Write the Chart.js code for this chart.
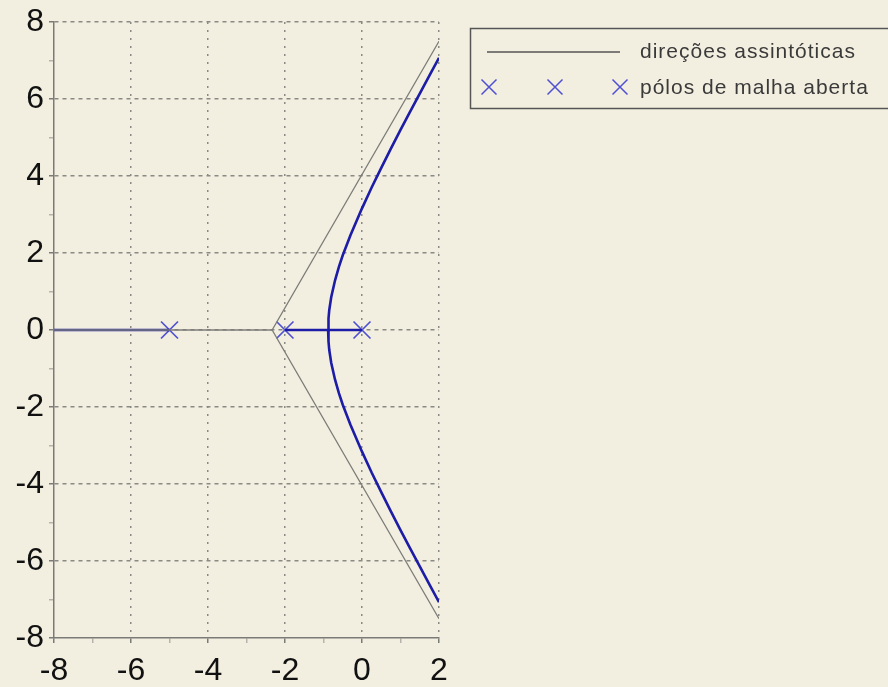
<!DOCTYPE html>
<html>
<head>
<meta charset="utf-8">
<script src="https://cdn.jsdelivr.net/npm/chart.js@4.4.1/dist/chart.umd.min.js"></script>
<style>
  html, body { margin: 0; padding: 0; background: #f3efe0; }
  canvas { display: block; }
</style>
</head>
<body>
<canvas id="rl" width="888" height="687"></canvas>
<script>
/* ── DATA ─────────────────────────────────────────────────────────────── */
const X_RANGE = [-8, 2];
const Y_RANGE = [-8, 8];

// open-loop poles (real axis)
const POLES_X = [-5, -2, 0];

// asymptote centre and end points
const CENTROID = -2.333;
const ASYM_END_X = 2;
const ASYM_END_Y = 7.5;

const LOCUS_RE = [-0.88, -0.87, -0.85, -0.8, -0.7, -0.6, -0.5, -0.3, 0, 0.25, 0.5, 0.75, 1, 1.25, 1.5, 1.75, 2];
const LOCUS_IM = [0, 0.3, 0.52, 0.85, 1.29, 1.64, 1.94, 2.46, 3.16, 3.7, 4.21, 4.71, 5.2, 5.67, 6.14, 6.61, 7.07];

// real-axis locus segments
const REAL_SEG_LEFT = [-8, -5];
const REAL_SEG_MID = [-2, 0];

const LEGEND_LABELS = ["direções assintóticas", "pólos de malha aberta"];

/* ── PALETTE ──────────────────────────────────────────────────────────── */
const C = {
  bg: "#f3efe0",
  grid: "#8a8a84",
  axis: "#7a7a76",
  asym: "#7c7c78",
  locus: "#1c1ca6",
  pole: "#4f4fd2",
  ink: "#111111",
  legendInk: "#3a3a3a",
};
const FONT = "'Liberation Sans', Arial, sans-serif";

const upper = LOCUS_RE.map((x, i) => ({ x, y: LOCUS_IM[i] }));
const lower = LOCUS_RE.map((x, i) => ({ x, y: -LOCUS_IM[i] }));

const lineDs = (data, color, width) => ({
  data, showLine: true, borderColor: color, borderWidth: width,
  pointRadius: 0, fill: false, tension: 0,
});

/* ── LEGEND PLUGIN ────────────────────────────────────────────────────── */
const legendBox = {
  id: "legendBox",
  afterDraw(chart) {
    const ctx = chart.ctx;
    ctx.save();
    ctx.strokeStyle = "#555";
    ctx.lineWidth = 1.5;
    ctx.strokeRect(470.5, 28.5, 430, 80);

    // line sample
    ctx.strokeStyle = "#555";
    ctx.lineWidth = 1.3;
    ctx.beginPath();
    ctx.moveTo(487, 52);
    ctx.lineTo(620, 52);
    ctx.stroke();

    // X samples
    ctx.strokeStyle = C.pole;
    ctx.lineWidth = 1.5;
    [489, 555, 620].forEach(cx => {
      const r = 7.5, cy = 87;
      ctx.beginPath();
      ctx.moveTo(cx - r, cy - r); ctx.lineTo(cx + r, cy + r);
      ctx.moveTo(cx + r, cy - r); ctx.lineTo(cx - r, cy + r);
      ctx.stroke();
    });

    ctx.fillStyle = C.legendInk;
    ctx.font = `21px ${FONT}`;
    ctx.letterSpacing = "1px";
    ctx.textBaseline = "alphabetic";
    ctx.textAlign = "left";
    ctx.fillText(LEGEND_LABELS[0], 640, 58);
    ctx.fillText(LEGEND_LABELS[1], 640, 94);
    ctx.restore();
  },
};

/* ── AXIS HELPERS ─────────────────────────────────────────────────────── */
const isMajor = v => Math.round(v) % 2 === 0;

function axisOpts(range, dash, pad, fitFn) {
  return {
    type: "linear",
    min: range[0],
    max: range[1],
    afterFit: fitFn,
    ticks: {
      stepSize: 1,
      autoSkip: false,
      maxRotation: 0,
      padding: pad,
      color: C.ink,
      font: { size: 32, family: FONT },
      callback: v => (isMajor(v) ? String(v) : ""),
    },
    grid: {
      color: c => (isMajor(c.tick.value) && c.tick.value !== range[0] ? C.grid : "rgba(0,0,0,0)"),
      lineWidth: 1.5,
      tickLength: 5,
      tickColor: c => (isMajor(c.tick.value) ? C.axis : "rgba(120,120,116,0.5)"),
    },
    border: { display: true, color: C.axis, width: 1.5, dash },
  };
}

new Chart(document.getElementById("rl"), {
  type: "scatter",
  data: {
    datasets: [
      // asymptotes
      lineDs([{ x: ASYM_END_X, y: ASYM_END_Y }, { x: CENTROID, y: 0 }, { x: ASYM_END_X, y: -ASYM_END_Y }], C.asym, 1.3),
      lineDs([{ x: X_RANGE[0], y: 0 }, { x: CENTROID, y: 0 }], C.asym, 1.3),
      // root locus
      lineDs(REAL_SEG_LEFT.map(x => ({ x, y: 0 })), C.locus, 2.6),
      lineDs(REAL_SEG_MID.map(x => ({ x, y: 0 })), C.locus, 2.6),
      lineDs(upper, C.locus, 2.6),
      lineDs(lower, C.locus, 2.6),
      // poles
      {
        data: POLES_X.map(x => ({ x, y: 0 })),
        showLine: false,
        pointStyle: "crossRot",
        pointRadius: 12,
        borderColor: C.pole,
        borderWidth: 1.7,
        backgroundColor: C.pole,
      },
    ],
  },
  options: {
    responsive: false,
    animation: false,
    devicePixelRatio: 1,
    layout: { padding: { top: 22, right: 449, left: 0, bottom: 0 } },
    plugins: { legend: { display: false }, tooltip: { enabled: false } },
    scales: {
      x: axisOpts(X_RANGE, [2, 6], 9, s => { s.height = 49; s.paddingLeft = 0; s.paddingRight = 0; }),
      y: axisOpts(Y_RANGE, [4, 4], 5, s => { s.width = 54; s.paddingTop = 0; s.paddingBottom = 0; }),
    },
  },
  plugins: [legendBox],
});
</script>
</body>
</html>
